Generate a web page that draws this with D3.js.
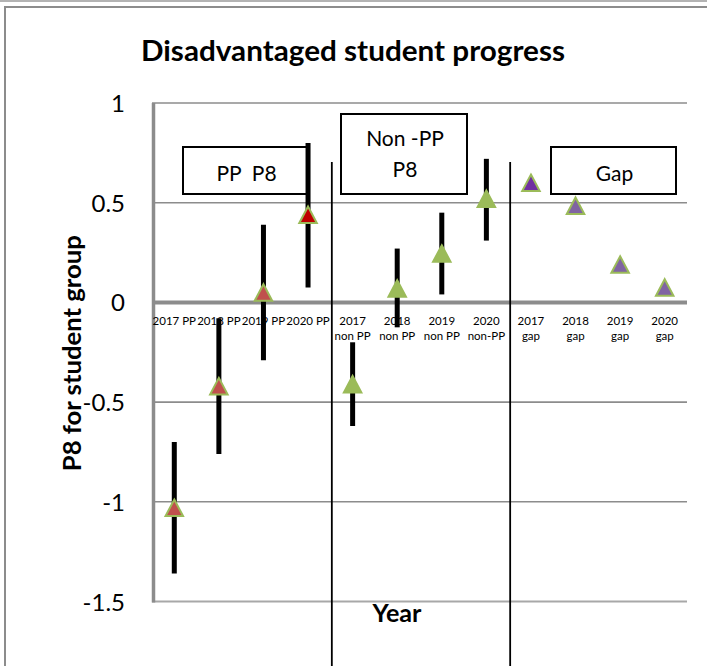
<!DOCTYPE html>
<html>
<head>
<meta charset="utf-8">
<script src="https://cdn.jsdelivr.net/npm/d3@7"></script>
<style>
  html, body { margin: 0; padding: 0; background: #fff; }
  svg { display: block; font-family: Lato, "Open Sans", sans-serif; }
</style>
</head>
<body>
<svg id="chart" width="707" height="666"></svg>
<script>
// ---- data ----
const categories = ["2017 PP", "2018 PP", "2019 PP", "2020 PP",
  "2017\nnon PP", "2018\nnon PP", "2019\nnon PP", "2020\nnon-PP",
  "2017\ngap", "2018\ngap", "2019\ngap", "2020\ngap"];
const ppCats = categories.slice(0, 4);
const nonPPCats = categories.slice(4, 8);
const gapCats = categories.slice(8, 12);

const ppValues = [-1.03, -0.42, 0.05, 0.44];
const ppLow = [-1.36, -0.76, -0.29, 0.075];
const ppHigh = [-0.70, -0.08, 0.39, 0.80];

const nonPPValues = [-0.41, 0.07, 0.245, 0.52];
const nonPPLow = [-0.62, -0.125, 0.04, 0.31];
const nonPPHigh = [-0.20, 0.27, 0.45, 0.72];

const gapValues = [0.60, 0.485, 0.19, 0.075];

const yTicks = [1, 0.5, 0, -0.5, -1, -1.5];
const yTickLabels = ["1", "0.5", "0", "-0.5", "-1", "-1.5"];

const titleText = "Disadvantaged student progress";
const yTitle = "P8 for student group";
const xTitle = "Year";
const boxLabels = [["PP  P8"], ["Non -PP", "P8"], ["Gap"]];

// ---- styles ----
const ppFill = ["#c0504d", "#c0504d", "#c0504d", "#c00000"];
const nonPPFill = ["#9bbb59", "#9bbb59", "#9bbb59", "#9bbb59"];
const gapFill = ["#7030a0", "#8064a2", "#8064a2", "#8064a2"];
const markerStroke = "#9bbb59";
const gridColor = "#8c8c8c";

// ---- setup ----
const svg = d3.select("#chart");
const x = d3.scaleBand().domain(categories).range([152, 687]).padding(0);
const y = d3.scaleLinear().domain([-1.5, 1]).range([601.5, 103]);
const cx = c => x(c) + x.bandwidth() / 2;

// outer frame
svg.append("line").attr("x1", 0).attr("x2", 707).attr("y1", 1).attr("y2", 1)
  .attr("stroke", "#9a9a9a").attr("stroke-width", 1.5);
svg.append("rect").attr("x", 5).attr("y", 7).attr("width", 720).attr("height", 700)
  .attr("fill", "none").attr("stroke", "#8c8c8c").attr("stroke-width", 2);

// title
svg.append("text").attr("x", 353).attr("y", 61).attr("text-anchor", "middle")
  .attr("font-weight", "bold").attr("font-size", 28).attr("fill", "#000")
  .attr("textLength", 424).attr("lengthAdjust", "spacingAndGlyphs")
  .text(titleText);

// gridlines
svg.append("g").selectAll("line").data(yTicks.filter(v => v !== 0 && v !== -1.5)).join("line")
  .attr("x1", 152).attr("x2", 687)
  .attr("y1", d => y(d)).attr("y2", d => y(d))
  .attr("stroke", gridColor).attr("stroke-width", 1.6);

// bottom border of plot
svg.append("line").attr("x1", 152).attr("x2", 687).attr("y1", y(-1.5)).attr("y2", y(-1.5))
  .attr("stroke", "#a8a8a8").attr("stroke-width", 2);

// left axis
svg.append("line").attr("x1", 153.5).attr("x2", 153.5).attr("y1", y(1)).attr("y2", y(-1.5) + 1)
  .attr("stroke", "#8c8c8c").attr("stroke-width", 3.5);

// zero axis
svg.append("line").attr("x1", 152).attr("x2", 687).attr("y1", y(0)).attr("y2", y(0))
  .attr("stroke", "#8c8c8c").attr("stroke-width", 4);

// y tick labels
svg.append("g").selectAll("text").data(yTicks).join("text")
  .attr("x", 125).attr("y", d => y(d) + 9)
  .attr("text-anchor", "end").attr("font-size", 24).attr("fill", "#000")
  .text((d, i) => yTickLabels[i]);

// y title
svg.append("text")
  .attr("transform", `translate(81,${(y(1) + y(-1.5)) / 2 + 1}) rotate(-90)`)
  .attr("text-anchor", "middle").attr("font-weight", "bold").attr("font-size", 24)
  .attr("textLength", 236).attr("lengthAdjust", "spacingAndGlyphs")
  .text(yTitle);

// x title
svg.append("text").attr("x", 397).attr("y", 622).attr("text-anchor", "middle")
  .attr("font-weight", "bold").attr("font-size", 24)
  .attr("textLength", 49).attr("lengthAdjust", "spacingAndGlyphs")
  .text(xTitle);

// category labels
const catG = svg.append("g");
categories.forEach(c => {
  const lines = c.split("\n");
  const t = catG.append("text").attr("x", cx(c)).attr("y", 325)
    .attr("text-anchor", "middle").attr("font-size", 11.5).attr("fill", "#000");
  lines.forEach((ln, i) => {
    t.append("tspan").attr("x", cx(c)).attr("y", 325 + i * 15).text(ln);
  });
});

// label boxes
const boxes = [
  { x0: 183, x1: 308, y0: 147, y1: 194, lines: boxLabels[0], base: [181] },
  { x0: 341, x1: 467, y0: 114, y1: 194, lines: boxLabels[1], base: [146, 177] },
  { x0: 551, x1: 676, y0: 147, y1: 194, lines: boxLabels[2], base: [181] }
];
boxes.forEach(b => {
  svg.append("rect").attr("x", b.x0).attr("y", b.y0)
    .attr("width", b.x1 - b.x0).attr("height", b.y1 - b.y0)
    .attr("fill", "#fff").attr("stroke", "#000").attr("stroke-width", 2);
  b.lines.forEach((ln, i) => {
    svg.append("text").attr("x", (b.x0 + b.x1) / 2 + 1).attr("y", b.base[i])
      .attr("text-anchor", "middle").attr("font-size", 21).attr("fill", "#000")
      .attr("xml:space", "preserve").style("white-space", "pre")
      .text(ln);
  });
});

// separators between groups
[nonPPCats[0], gapCats[0]].forEach(c => {
  svg.append("line").attr("x1", x(c) + 1.5).attr("x2", x(c) + 1.5)
    .attr("y1", 162).attr("y2", 666)
    .attr("stroke", "#000").attr("stroke-width", 1.8);
});

// error bars
const errG = svg.append("g");
function errBars(cats, lo, hi) {
  errG.selectAll(null).data(cats).join("line")
    .attr("x1", c => cx(c)).attr("x2", c => cx(c))
    .attr("y1", (c, i) => y(hi[i])).attr("y2", (c, i) => y(lo[i]))
    .attr("stroke", "#000").attr("stroke-width", 5);
}
errBars(ppCats, ppLow, ppHigh);
errBars(nonPPCats, nonPPLow, nonPPHigh);

// triangle markers
const mW = 17.5, mH = 16.5;
function tri(px, py) {
  return `M${px},${py - mH / 2}L${px + mW / 2},${py + mH / 2}L${px - mW / 2},${py + mH / 2}Z`;
}
const mG = svg.append("g");
function markers(cats, vals, fills) {
  mG.selectAll(null).data(cats).join("path")
    .attr("d", (c, i) => tri(cx(c), y(vals[i])))
    .attr("fill", (c, i) => fills[i])
    .attr("stroke", markerStroke).attr("stroke-width", 2)
    .attr("stroke-linejoin", "miter");
}
markers(ppCats, ppValues, ppFill);
markers(nonPPCats, nonPPValues, nonPPFill);
markers(gapCats, gapValues, gapFill);
</script>
</body>
</html>
